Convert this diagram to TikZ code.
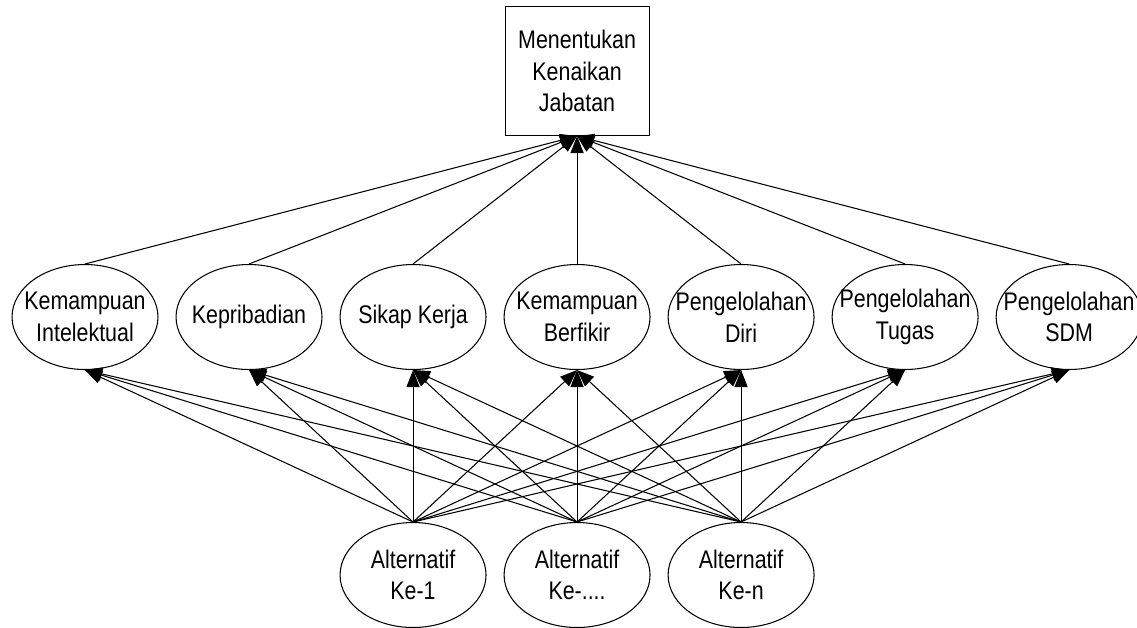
\documentclass[tikz,border=0pt]{standalone}
\usepackage{fontspec}
\setmainfont{Liberation Sans}[FakeStretch=0.84]
\usetikzlibrary{arrows.meta,positioning,shapes.geometric}

\def\colsep{0.34cm}

\begin{document}
\begin{tikzpicture}[x=0.02cm,y=-0.02cm,->,>={Triangle[length=3.4mm,width=2.6mm]},draw=black,line width=0.6pt,node distance=\colsep]
    \tikzstyle{every node}=[font=\fontsize{14.5}{18}\selectfont,align=center]
    \tikzstyle{goal}=[draw,rectangle,minimum width=2.88cm,minimum height=2.58cm,inner sep=0pt]
    \tikzstyle{criteria}=[draw,ellipse,minimum width=2.92cm,minimum height=2.1cm,inner sep=-8pt]
    \tikzstyle{alternative}=[criteria]
    \useasboundingbox (0,0) rectangle (1137,627);
    % criteria row
    \node[criteria] (C1) at (85,317) {Kemampuan\\Intelektual};
    \node[criteria, right=of C1] (C2) {Kepribadian};
    \node[criteria, right=of C2] (C3) {Sikap Kerja};
    \node[criteria, right=of C3] (C4) {Kemampuan\\Berfikir};
    \node[criteria, right=of C4] (C5) {Pengelolahan\\Diri};
    \node[criteria, right=of C5] (C6) {Pengelolahan\\Tugas};
    \node[criteria, right=of C6] (C7) {Pengelolahan\\SDM};
    % goal and alternatives
    \node[goal, above=2.56cm of C4] (G) {Menentukan\\Kenaikan\\Jabatan};
    \node[alternative, below=3.04cm of C3] (A1) {Alternatif\\Ke-1};
    \node[alternative, below=3.04cm of C4] (A2) {Alternatif\\Ke-....};
    \node[alternative, below=3.04cm of C5] (A3) {Alternatif\\Ke-n};
    % connectors
    \foreach \i in {1,...,7}
        \draw (C\i.north) -- (G.south);
    \foreach \a in {1,2,3}
        \foreach \i in {1,...,7}
            \draw (A\a.north) -- (C\i.south);
\end{tikzpicture}
\end{document}
